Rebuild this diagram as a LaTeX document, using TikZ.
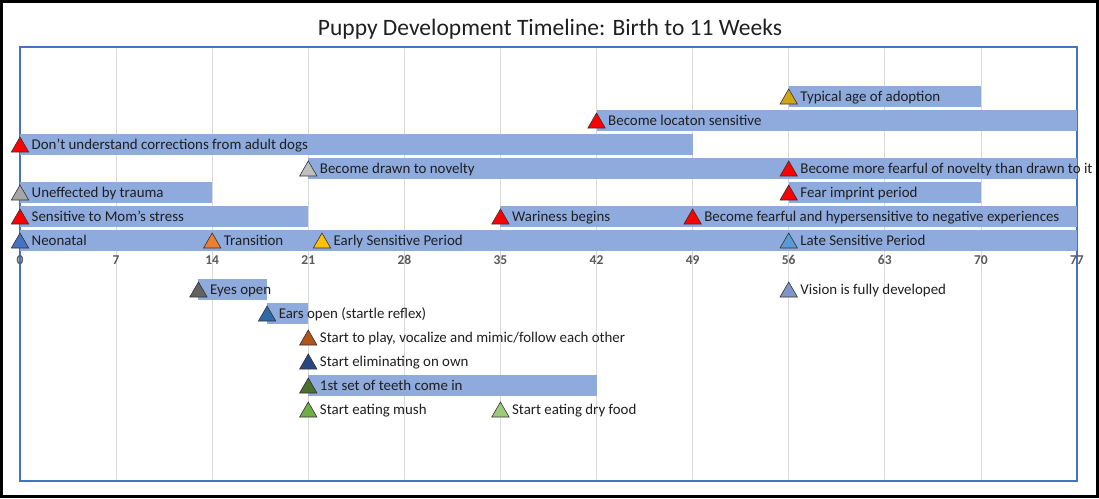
\documentclass[tikz,border=0pt]{standalone}
\usepackage{fontspec}
\setmainfont{Carlito}
\usetikzlibrary{shapes.geometric}
\definecolor{barblue}{HTML}{8FAADC}
\definecolor{plotblue}{HTML}{4472C4}
\definecolor{gridc}{HTML}{D9D9D9}
\definecolor{axisgrey}{HTML}{595959}
\definecolor{txt}{HTML}{1F1F1F}
\definecolor{cred}{HTML}{FF0000}
\definecolor{cgold}{HTML}{D4A418}
\definecolor{cltgrey}{HTML}{BFBFBF}
\definecolor{cgrey}{HTML}{A6A6A6}
\definecolor{cblue}{HTML}{4472C4}
\definecolor{corange}{HTML}{ED7D31}
\definecolor{cyellow}{HTML}{FFC000}
\definecolor{cltblue}{HTML}{5B9BD5}
\definecolor{cdkgrey}{HTML}{636363}
\definecolor{cslate}{HTML}{7F96C8}
\definecolor{csteel}{HTML}{2E6BA8}
\definecolor{cbrown}{HTML}{B0541A}
\definecolor{cnavy}{HTML}{2A4580}
\definecolor{cdkgreen}{HTML}{4A6F30}
\definecolor{cgreen}{HTML}{70AD47}
\definecolor{cltgreen}{HTML}{9CCB78}
\newcommand\pupev[5]{%
  \node[tri,fill=#4] (t#1) at (#2,#3+3) {};
  \node[lbl] (l#1) at ([xshift=11.5pt]#2,#3+5.5) {#5};}
\newcommand\pupbar[3]{\path[bar] (#1,#3-10.5) rectangle (#2,#3+10.5);}
\begin{document}
\begin{tikzpicture}[x=13.727pt,y=-1pt,
  bar/.style={fill=barblue,draw=none},
  tri/.style={regular polygon,regular polygon sides=3,minimum size=20pt,inner sep=0pt,draw=black!80,line width=0.6pt},
  lbl/.style={anchor=base west,inner sep=0pt,font=\fontsize{14.9}{16}\selectfont,text=txt},
  ax/.style={font=\fontsize{13.5}{15}\selectfont\bfseries,text=axisgrey,inner sep=0pt},
  frame/.style={draw=black,line width=3pt},
  plotframe/.style={draw=plotblue,line width=2pt},
  grid/.style={draw=gridc,line width=0.8pt}]
\coordinate (TL) at (-1.457,0);
\coordinate (BR) at (78.604,498);
\useasboundingbox (TL) rectangle (BR);
\fill[white] (TL) rectangle (BR);
\draw[frame] ([shift={(1.5pt,-1.5pt)}]TL) rectangle ([shift={(-1.5pt,1.5pt)}]BR);
\node[font=\fontsize{23.5}{26}\selectfont,text=txt,inner sep=0pt,anchor=base] (title) at (38.61,35) {Puppy Development Timeline: Birth to 11 Weeks};
% gridlines
\foreach \d in {7,14,...,70} \draw[grid] (\d,47) -- (\d,481);
\draw[plotframe] (0,47) rectangle (77,481);
% axis labels
\foreach \d in {0,7,...,77} \node[ax,anchor=base] (ax\d) at (\d,264.5) {\d};
% bars
\pupbar{56}{70}{96}
\pupbar{42}{77}{120}
\pupbar{0}{49}{144}
\pupbar{21}{77}{168}
\pupbar{0}{14}{192}
\pupbar{56}{70}{192}
\pupbar{0}{21}{216}
\pupbar{35}{77}{216}
\pupbar{0}{77}{240}
\pupbar{13}{18}{289}
\pupbar{18}{21}{313}
\pupbar{21}{42}{385}
% events
\pupev{a}{56}{96}{cgold}{Typical age of adoption}
\pupev{b}{42}{120}{cred}{Become locaton sensitive}
\pupev{c}{0}{144}{cred}{Don't understand corrections from adult dogs}
\pupev{d}{21}{168}{cltgrey}{Become drawn to novelty}
\pupev{e}{56}{168}{cred}{Become more fearful of novelty than drawn to it}
\pupev{f}{0}{192}{cgrey}{Uneffected by trauma}
\pupev{g}{56}{192}{cred}{Fear imprint period}
\pupev{h}{0}{216}{cred}{Sensitive to Mom's stress}
\pupev{i}{35}{216}{cred}{Wariness begins}
\pupev{j}{49}{216}{cred}{Become fearful and hypersensitive to negative experiences}
\pupev{k}{0}{240}{cblue}{Neonatal}
\pupev{l}{14}{240}{corange}{Transition}
\pupev{m}{22}{240}{cyellow}{Early Sensitive Period}
\pupev{n}{56}{240}{cltblue}{Late Sensitive Period}
\pupev{o}{13}{289}{cdkgrey}{Eyes open}
\pupev{p}{56}{289}{cslate}{Vision is fully developed}
\pupev{q}{18}{313}{csteel}{Ears open (startle reflex)}
\pupev{r}{21}{337}{cbrown}{Start to play, vocalize and mimic/follow each other}
\pupev{s}{21}{361}{cnavy}{Start eliminating on own}
\pupev{t}{21}{385}{cdkgreen}{1st set of teeth come in}
\pupev{u}{21}{409}{cgreen}{Start eating mush}
\pupev{v}{35}{409}{cltgreen}{Start eating dry food}
\end{tikzpicture}
\end{document}
